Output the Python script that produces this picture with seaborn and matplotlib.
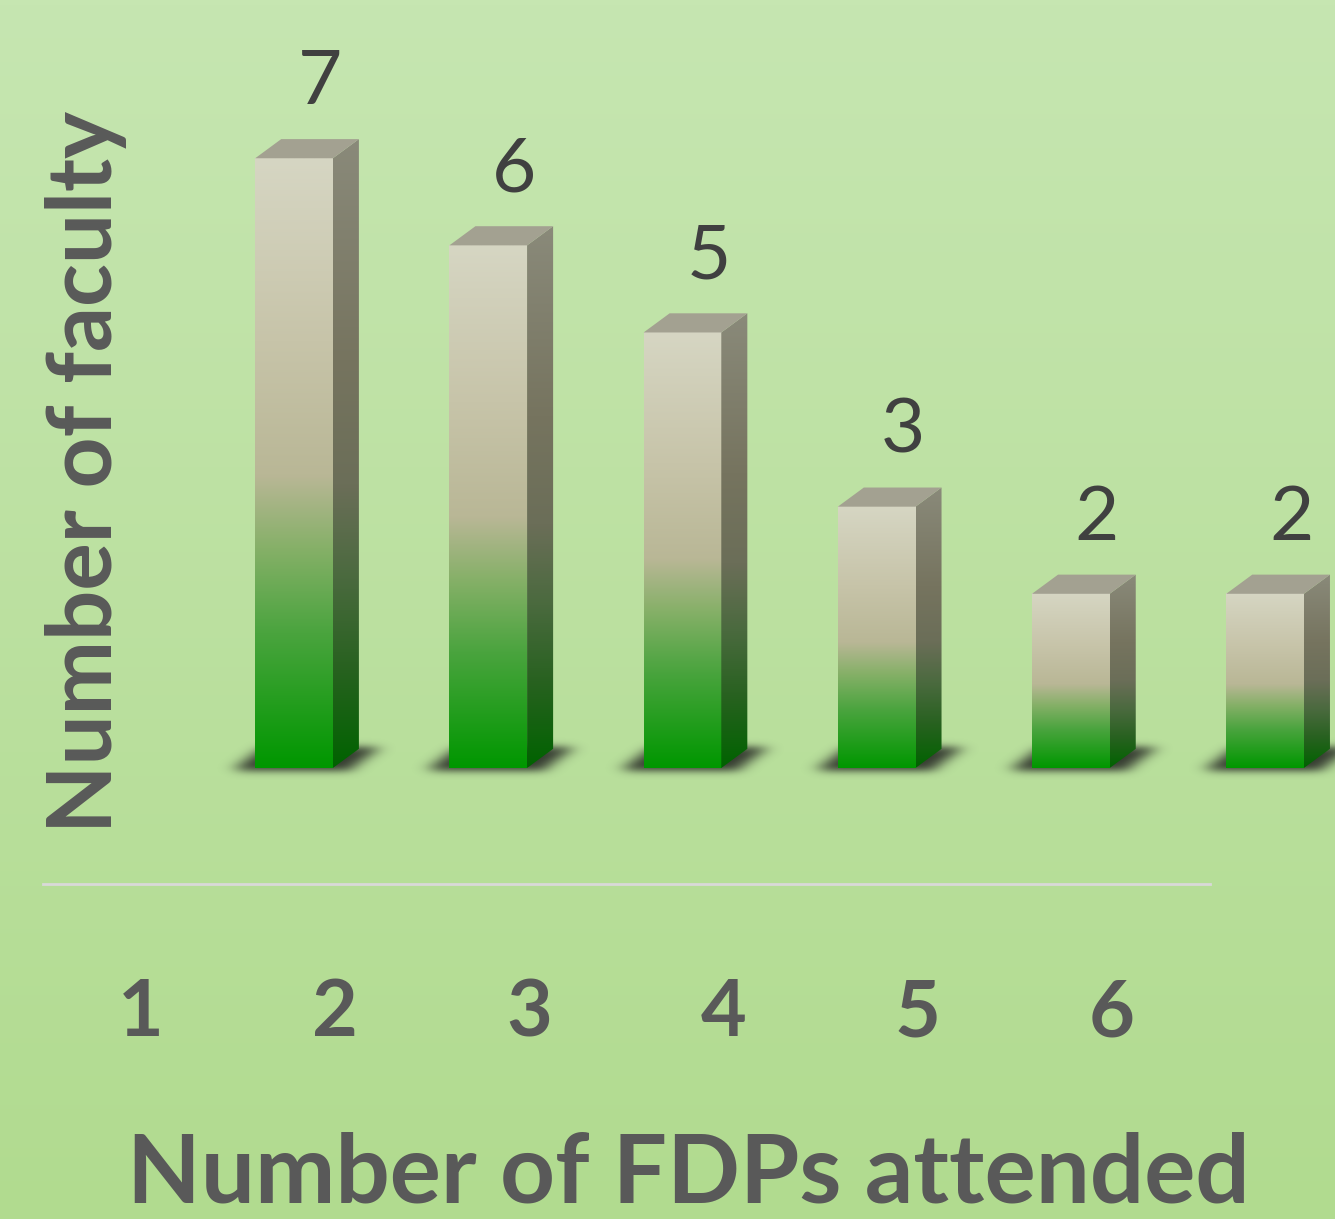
import numpy as np
import pandas as pd
import matplotlib.pyplot as plt
import seaborn as sns
from matplotlib.colors import LinearSegmentedColormap
from matplotlib.patches import Polygon

# data
fdps = ['1', '2', '3', '4', '5', '6']
faculty = [7, 6, 5, 3, 2, 2]

df = pd.DataFrame({'FDPs': fdps, 'Faculty': faculty})

sns.set_theme(style='white')
plt.rcParams['font.family'] = ['Lato', 'DejaVu Sans']

fig = plt.figure(figsize=(13.35, 12.19), dpi=100)

# light green background, slightly darker at the bottom
grad = np.linspace(0, 1, 256).reshape(-1, 1)
bg = fig.add_axes([0, 0, 1, 1])
bg_cmap = LinearSegmentedColormap.from_list('bg', ['#c6e6b1', '#b1db8f'])
bg.imshow(grad, cmap=bg_cmap, aspect='auto', extent=[0, 1, 0, 1])
bg.axis('off')

ax = fig.add_axes([0, 0.2748, 1, 0.7252])
ax.patch.set_alpha(0)
sns.barplot(data=df, x='FDPs', y='Faculty', width=0.4, color='#009900', ax=ax)

front_cmap = LinearSegmentedColormap.from_list('front', [
    (0.0, '#d6d6c3'), (0.3, '#c7c4a9'), (0.52, '#b9b796'),
    (0.64, '#86b068'), (0.78, '#4aa43e'), (1.0, '#009700')])
side_cmap = LinearSegmentedColormap.from_list('side', [
    (0.0, '#8a8a7a'), (0.35, '#76745f'), (0.55, '#6b6e58'),
    (0.7, '#4a6a3e'), (0.85, '#26611e'), (1.0, '#006300')])

# 3d depth of the bars, in data units
dx, dy = 0.134, 0.22


def blur(a, sigma, axis):
    k = np.arange(-3 * sigma, 3 * sigma + 1)
    k = np.exp(-0.5 * (k / sigma) ** 2)
    k /= k.sum()
    return np.apply_along_axis(lambda r: np.convolve(r, k, mode='same'), axis, a)


def shadow_img(w):
    # blurred footprint of the box, a bit wider than the bar
    pad_x, lo, hi = 0.3, -0.2, 0.45
    xs = np.linspace(-pad_x, w + dx + pad_x, 240)
    ys = np.linspace(hi, lo, 60)
    X, Y = np.meshgrid(xs, ys)
    shift = np.clip(Y / dy, 0, 1) * dx
    core = ((Y > -0.04) & (Y < dy + 0.02) &
            (X > shift - 0.1) & (X < w + shift + 0.1)).astype(float)
    a = blur(blur(core, 9, 1), 4, 0)
    img = np.zeros((60, 240, 4))
    img[..., :3] = 0.12
    img[..., 3] = 0.85 * a / a.max()
    return img, (-pad_x, w + dx + pad_x, lo, hi)


for p in ax.patches:
    x0, w, h = p.get_x(), p.get_width(), p.get_height()
    p.set_facecolor('none')
    p.set_linewidth(0)
    img, (l, r, b, t) = shadow_img(w)
    ax.imshow(img, extent=[x0 + l, x0 + r, b, t], aspect='auto', zorder=1,
              interpolation='bilinear')
    ax.imshow(grad, cmap=front_cmap, extent=[x0, x0 + w, 0, h],
              aspect='auto', zorder=3, interpolation='bilinear')
    side = Polygon([(x0 + w, 0), (x0 + w + dx, dy), (x0 + w + dx, h + dy), (x0 + w, h)],
                   closed=True, facecolor='none', edgecolor='none')
    ax.add_patch(side)
    im = ax.imshow(grad, cmap=side_cmap, extent=[x0 + w, x0 + w + dx, 0, h + dy],
                   aspect='auto', zorder=3, interpolation='bilinear')
    im.set_clip_path(side)
    ax.add_patch(Polygon([(x0, h), (x0 + dx, h + dy), (x0 + w + dx, h + dy), (x0 + w, h)],
                         closed=True, facecolor='#a3a191', edgecolor='none', zorder=3))

for p, v in zip(ax.patches, faculty):
    ax.annotate(str(v), (p.get_x() + p.get_width() / 2 + dx, v + dy),
                xytext=(0, 25), textcoords='offset points',
                ha='center', va='baseline', fontsize=55, color='#404040')

# tick labels sit to the left of the bars, as in the original
ax.set_xticks(np.arange(len(fdps)) - 0.79, fdps)
ax.tick_params(axis='x', length=0, pad=68, labelsize=57, labelcolor='#595959')
for t in ax.get_xticklabels():
    t.set_fontweight('bold')
ax.set_yticks([])

ax.set_xlabel('Number of FDPs attended', fontsize=69, fontweight='bold', color='#595959')
ax.xaxis.set_label_coords(688 / 1335, -0.28)
ax.set_ylabel('Number of faculty', fontsize=64, fontweight='bold', color='#595959', va='center')
ax.yaxis.set_label_coords(86 / 1335, 0.466)

sns.despine(ax=ax, left=True)
ax.spines['bottom'].set_color('#d9d9d9')
ax.spines['bottom'].set_linewidth(2)
ax.spines['bottom'].set_bounds(-1.293, 4.717)

ax.set_xlim(-1.514, 5.36)
ax.set_ylim(-1.332, 8.817)

plt.savefig('out.png', dpi=100)
